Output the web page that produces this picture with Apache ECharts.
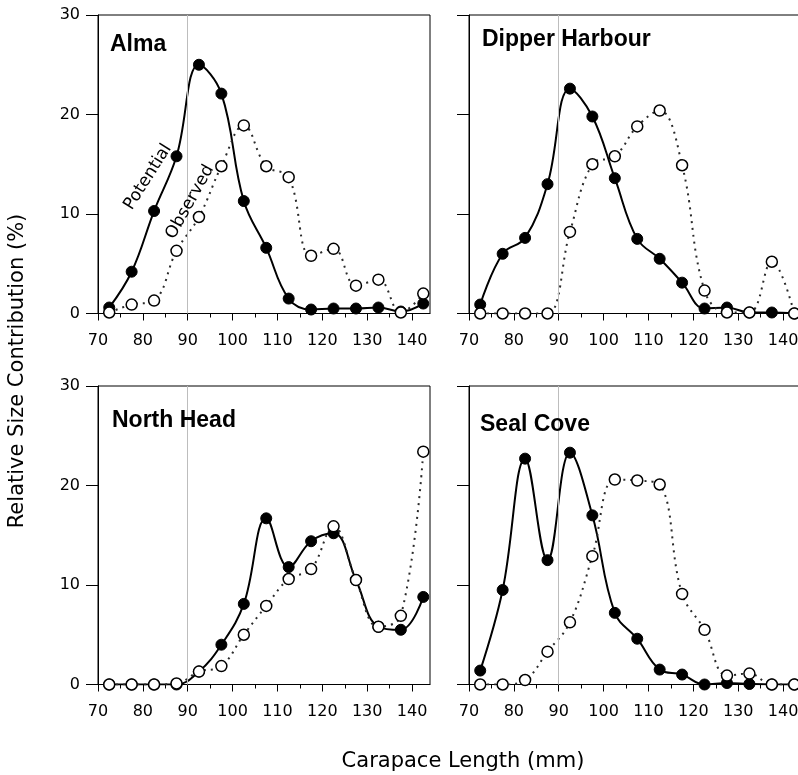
<!DOCTYPE html>
<html>
<head>
<meta charset="utf-8">
<script src="https://cdn.jsdelivr.net/npm/echarts@6/dist/echarts.min.js"></script>
<style>
html,body{margin:0;padding:0;background:#fff;}
#chart{width:798px;height:775px;}
</style>
</head>
<body>
<div id="chart"></div>
<script>
// ---- data ----
const lengths = [72.5, 77.5, 82.5, 87.5, 92.5, 97.5, 102.5, 107.5, 112.5, 117.5, 122.5, 127.5, 132.5, 137.5, 142.5];

const almaPotential   = [0.6, 4.2, 10.3, 15.8, 25.0, 22.1, 11.3, 6.6, 1.5, 0.4, 0.5, 0.5, 0.6, 0.2, 1.0];
const almaObserved    = [0.1, 0.9, 1.3, 6.3, 9.7, 14.8, 18.9, 14.8, 13.7, 5.8, 6.5, 2.8, 3.4, 0.1, 2.0];

const dipperPotential = [0.9, 6.0, 7.6, 13.0, 22.6, 19.8, 13.6, 7.5, 5.5, 3.1, 0.5, 0.6, 0.1, 0.1, 0.0];
const dipperObserved  = [0.0, 0.0, 0.0, 0.0, 8.2, 15.0, 15.8, 18.8, 20.4, 14.9, 2.3, 0.1, 0.1, 5.2, 0.0];

const northPotential  = [0.0, 0.0, 0.0, 0.0, 1.3, 4.0, 8.1, 16.7, 11.8, 14.4, 15.2, 10.5, 5.8, 5.5, 8.8];
const northObserved   = [0.0, 0.0, 0.0, 0.1, 1.3, 1.85, 5.0, 7.9, 10.6, 11.6, 15.9, 10.5, 5.8, 6.9, 23.4];

const sealPotential   = [1.4, 9.5, 22.7, 12.5, 23.3, 17.0, 7.2, 4.6, 1.5, 1.0, 0.0, 0.15, 0.05, 0.0, 0.0];
const sealObserved    = [0.0, 0.0, 0.45, 3.3, 6.25, 12.9, 20.6, 20.5, 20.1, 9.1, 5.5, 0.9, 1.1, 0.0, 0.0];

const panelNames = ['Alma', 'Dipper Harbour', 'North Head', 'Seal Cove'];
const xTicks = [70, 80, 90, 100, 110, 120, 130, 140];
const xMinorTicks = [75, 85, 95, 105, 115, 125, 135];
const yTicks = [0, 10, 20, 30];
const referenceLength = 90;

// ---- layout ----
const panels = [
  { name: panelNames[0], pot: almaPotential,   obs: almaObserved,   left: 98,  top: 15,  yLabels: true,  tx: 110, ty: 45 },
  { name: panelNames[1], pot: dipperPotential, obs: dipperObserved, left: 469, top: 15,  yLabels: false, tx: 482, ty: 40 },
  { name: panelNames[2], pot: northPotential,  obs: northObserved,  left: 98,  top: 386, yLabels: true,  tx: 112, ty: 421 },
  { name: panelNames[3], pot: sealPotential,   obs: sealObserved,   left: 469, top: 386, yLabels: false, tx: 480, ty: 425 }
];
const PW = 332, PH = 298.5;
const FONT = 'DejaVu Sans';

const pairs = (vals) => lengths.map((x, i) => [x, vals[i]]);

const grid = [], xAxis = [], yAxis = [], series = [], graphic = [];

panels.forEach((p, i) => {
  grid.push({
    left: p.left, top: p.top, width: PW, height: PH,
    show: true, borderColor: '#000', borderWidth: 1, backgroundColor: 'transparent',
    containLabel: false, outerBoundsMode: 'none'
  });
  // main x axis
  xAxis.push({
    gridIndex: i, type: 'value', min: 70, max: 144, position: 'bottom',
    axisLine: { show: true, onZero: false, lineStyle: { color: '#000', width: 1 } },
    axisTick: { show: true, inside: false, length: 7, customValues: xTicks, lineStyle: { color: '#000', width: 1 } },
    axisLabel: { show: true, customValues: xTicks, margin: 19, fontFamily: FONT, fontSize: 16, color: '#000' },
    splitLine: { show: false }
  });
  // minor ticks axis
  xAxis.push({
    gridIndex: i, type: 'value', min: 70, max: 144, position: 'bottom',
    axisLine: { show: false, onZero: false },
    axisTick: { show: true, inside: false, length: 4, customValues: xMinorTicks, lineStyle: { color: '#000', width: 1 } },
    axisLabel: { show: false },
    splitLine: { show: false }
  });
  yAxis.push({
    gridIndex: i, type: 'value', min: 0, max: 30, interval: 10,
    axisLine: { show: true, onZero: false, lineStyle: { color: '#000', width: 1 } },
    axisTick: { show: true, inside: false, length: 12, lineStyle: { color: '#000', width: 1 } },
    axisLabel: { show: p.yLabels, margin: 18, fontFamily: FONT, fontSize: 16, color: '#000' },
    splitLine: { show: false }
  });

  const xi = i * 2;
  // reference line at 90 mm
  series.push({
    type: 'line', xAxisIndex: xi, yAxisIndex: i, data: [], z: 1, silent: true,
    markLine: {
      silent: true, symbol: 'none', animation: false,
      label: { show: false },
      lineStyle: { color: '#bdbdbd', width: 1, type: 'solid' },
      data: [{ xAxis: referenceLength }]
    }
  });
  // Potential
  series.push({
    name: 'Potential', type: 'line', xAxisIndex: xi, yAxisIndex: i, z: 3,
    data: pairs(p.pot), smooth: 0.4, animation: false,
    symbol: 'circle', symbolSize: 11, showAllSymbol: true,
    lineStyle: { color: '#000', width: 2 },
    itemStyle: { color: '#000', borderColor: '#000', borderWidth: 1 }
  });
  // Observed
  series.push({
    name: 'Observed', type: 'line', xAxisIndex: xi, yAxisIndex: i, z: 4,
    data: pairs(p.obs), smooth: 0.4, animation: false,
    symbol: 'circle', symbolSize: 11, showAllSymbol: true,
    lineStyle: { color: '#2a2a2a', width: 2, type: [2, 5] },
    itemStyle: { color: '#fff', borderColor: '#000', borderWidth: 1.5 }
  });

  graphic.push({
    type: 'text', left: p.tx, top: p.ty - 12, z: 10,
    style: { text: p.name, font: 'bold 23px "Liberation Sans", Arial, sans-serif', fill: '#000' }
  });
});

// in-panel curve labels (Alma)
graphic.push({
  type: 'text', x: 148, y: 177, rotation: 57.7 * Math.PI / 180, z: 10,
  style: { text: 'Potential', font: '17px "DejaVu Sans"', fill: '#000', align: 'center', verticalAlign: 'middle' }
});
graphic.push({
  type: 'text', x: 190, y: 202, rotation: 61 * Math.PI / 180, z: 10,
  style: { text: 'Observed', font: '17px "DejaVu Sans"', fill: '#000', align: 'center', verticalAlign: 'middle' }
});
// axis titles
graphic.push({
  type: 'text', x: 463, y: 762, z: 10,
  style: { text: 'Carapace Length (mm)', font: '21px "DejaVu Sans"', fill: '#000', align: 'center', verticalAlign: 'middle' }
});
graphic.push({
  type: 'text', x: 18, y: 371, rotation: Math.PI / 2, z: 10,
  style: { text: 'Relative Size Contribution (%)', font: '21px "DejaVu Sans"', fill: '#000', align: 'center', verticalAlign: 'middle' }
});

const chart = echarts.init(document.getElementById('chart'), null, { renderer: 'canvas' });
chart.setOption({
  backgroundColor: '#fff',
  animation: false,
  grid, xAxis, yAxis, series, graphic
});
</script>
</body>
</html>
